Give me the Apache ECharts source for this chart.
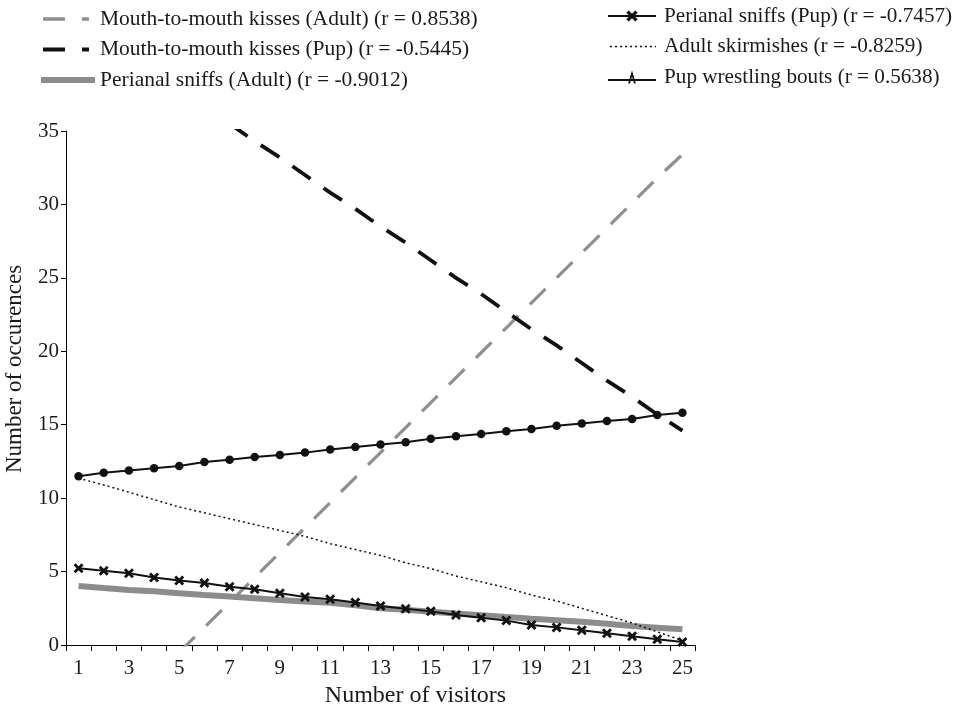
<!DOCTYPE html>
<html>
<head>
<meta charset="utf-8">
<script src="https://cdn.jsdelivr.net/npm/echarts@6/dist/echarts.min.js"></script>
<style>
html,body{margin:0;padding:0;background:#fff;}
#chart{width:972px;height:704px;}
</style>
</head>
<body>
<div id="chart"></div>
<script>
// ---- Data ----
const visitors = ['1','2','3','4','5','6','7','8','9','10','11','12','13','14','15','16','17','18','19','20','21','22','23','24','25'];

const kissesAdult = [null, null, null, null, -0.5, 1.2, 2.9, 4.6, 6.3, 8.0, 9.7, 11.4, 13.1, 14.8, 16.5, 18.2, 19.9, 21.6, 23.3, 25.0, 26.7, 28.4, 30.1, 31.8, 33.4];
const kissesPup = [null, null, null, null, null, null, 35.5, 34.3, 33.2, 32.0, 30.8, 29.7, 28.5, 27.4, 26.2, 25.0, 23.9, 22.7, 21.5, 20.4, 19.2, 18.0, 16.9, 15.7, 14.6];
const sniffsAdult = [4.02, 3.88, 3.75, 3.66, 3.52, 3.40, 3.30, 3.18, 3.06, 2.97, 2.88, 2.70, 2.50, 2.40, 2.27, 2.14, 2.02, 1.90, 1.79, 1.69, 1.59, 1.45, 1.29, 1.18, 1.07];
const sniffsPup = [5.22, 5.06, 4.88, 4.59, 4.40, 4.22, 3.97, 3.79, 3.52, 3.27, 3.11, 2.90, 2.66, 2.47, 2.29, 2.04, 1.86, 1.66, 1.36, 1.20, 1.00, 0.80, 0.59, 0.39, 0.20];
const skirmishes = [11.35, 10.9, 10.4, 9.9, 9.4, 9.0, 8.6, 8.2, 7.8, 7.4, 6.9, 6.5, 6.1, 5.6, 5.2, 4.7, 4.3, 3.9, 3.4, 3.0, 2.5, 2.0, 1.5, 0.9, 0.3];
const wrestling = [11.49, 11.73, 11.89, 12.03, 12.19, 12.46, 12.62, 12.80, 12.94, 13.10, 13.32, 13.48, 13.66, 13.80, 14.05, 14.21, 14.37, 14.55, 14.71, 14.93, 15.09, 15.25, 15.39, 15.66, 15.82];

const names = [
  'Mouth-to-mouth kisses (Adult) (r = 0.8538)',
  'Mouth-to-mouth kisses (Pup) (r = -0.5445)',
  'Perianal sniffs (Adult) (r = -0.9012)',
  'Perianal sniffs (Pup) (r = -0.7457)',
  'Adult skirmishes (r = -0.8259)',
  'Pup wrestling bouts (r = 0.5638)'
];
const yTicks = {min: 0, max: 35, interval: 5};
const xTitle = 'Number of visitors';
const yTitle = 'Number of occurences';

// ---- Chart ----
const FONT = 'Liberation Serif';
const TXT = '#1a1a1a';
const crossPath = 'path://M2,0 L5,3 L8,0 L10,2 L7,5 L10,8 L8,10 L5,7 L2,10 L0,8 L3,5 L0,2 Z';
const wrestIcon = 'path://M0,8.6 L48,8.6 L48,10.4 L0,10.4 Z M24,0 L27.8,13 L26,13 L24,6 L22,13 L20.2,13 Z';

const chart = echarts.init(document.getElementById('chart'), null, {renderer: 'canvas'});
chart.setOption({
  animation: false,
  backgroundColor: '#fff',
  textStyle: {fontFamily: FONT, color: TXT},
  grid: {left: 66, right: 277, top: 131, bottom: 59, containLabel: false, outerBoundsMode: 'none'},
  legend: [
    {
      orient: 'vertical', left: 38, top: 7, padding: 0,
      itemWidth: 54, itemHeight: 14, itemGap: 6.5,
      textStyle: {fontFamily: FONT, fontSize: 21.5, color: TXT, lineHeight: 24},
      data: [
        {name: names[0], itemStyle: {opacity: 0}, lineStyle: {type: [22, 17, 7, 40], dashOffset: -2, width: 3.5}},
        {name: names[1], itemStyle: {opacity: 0}, lineStyle: {type: [22, 17, 7, 40], dashOffset: -2, width: 3.8}},
        {name: names[2], itemStyle: {opacity: 0}, lineStyle: {width: 6}}
      ]
    },
    {
      orient: 'vertical', left: 607, top: 4, padding: 0,
      itemWidth: 48, itemHeight: 14, itemGap: 6.5,
      textStyle: {fontFamily: FONT, fontSize: 21.2, color: TXT, lineHeight: 24, padding: [0, 0, 0, 3]},
      data: [
        {name: names[3], lineStyle: {width: 2}},
        {name: names[4], itemStyle: {opacity: 0}, lineStyle: {width: 1.5}},
        {name: names[5], icon: wrestIcon}
      ]
    }
  ],
  xAxis: {
    type: 'category',
    data: visitors,
    boundaryGap: true,
    name: xTitle,
    nameLocation: 'middle',
    nameGap: 34,
    nameTextStyle: {fontFamily: FONT, fontSize: 24, color: TXT, padding: [0, 0, 0, 70]},
    axisLine: {lineStyle: {color: '#000', width: 1}},
    axisTick: {show: true, inside: false, length: 6, interval: 0, lineStyle: {color: '#000'}},
    axisLabel: {interval: 1, fontFamily: FONT, fontSize: 21, color: TXT, margin: 13},
    splitLine: {show: false}
  },
  yAxis: {
    type: 'value',
    min: yTicks.min, max: yTicks.max, interval: yTicks.interval,
    name: yTitle,
    nameLocation: 'middle',
    nameGap: 40,
    nameTextStyle: {fontFamily: FONT, fontSize: 23, color: TXT, padding: [0, 0, 0, 38]},
    axisLine: {show: true, lineStyle: {color: '#000', width: 1}},
    axisTick: {show: true, inside: false, length: 5, lineStyle: {color: '#000'}},
    axisLabel: {fontFamily: FONT, fontSize: 21, color: TXT, margin: 7},
    splitLine: {show: false}
  },
  series: [
    {
      name: names[0], type: 'line', data: kissesAdult, symbol: 'none', clip: true,
      lineStyle: {color: '#8f8f8f', width: 3.2, type: [22, 16], cap: 'butt'},
      itemStyle: {color: '#8f8f8f'}, z: 2
    },
    {
      name: names[1], type: 'line', data: kissesPup, symbol: 'none', clip: true,
      lineStyle: {color: '#111', width: 3.8, type: [22, 16], cap: 'butt'},
      itemStyle: {color: '#111'}, z: 3
    },
    {
      name: names[2], type: 'line', data: sniffsAdult, symbol: 'none', clip: true,
      lineStyle: {color: '#8c8c8c', width: 6},
      itemStyle: {color: '#8c8c8c'}, z: 2
    },
    {
      name: names[3], type: 'line', data: sniffsPup, symbol: crossPath, symbolSize: 10, clip: true,
      lineStyle: {color: '#111', width: 2},
      itemStyle: {color: '#111'}, z: 4
    },
    {
      name: names[4], type: 'line', data: skirmishes, symbol: 'none', clip: true,
      lineStyle: {color: '#111', width: 1.5, type: [2, 3]},
      itemStyle: {color: '#111'}, z: 3
    },
    {
      name: names[5], type: 'line', data: wrestling, symbol: 'circle', symbolSize: 8.5, clip: true,
      lineStyle: {color: '#111', width: 2},
      itemStyle: {color: '#111'}, z: 4
    }
  ]
});
</script>
</body>
</html>
